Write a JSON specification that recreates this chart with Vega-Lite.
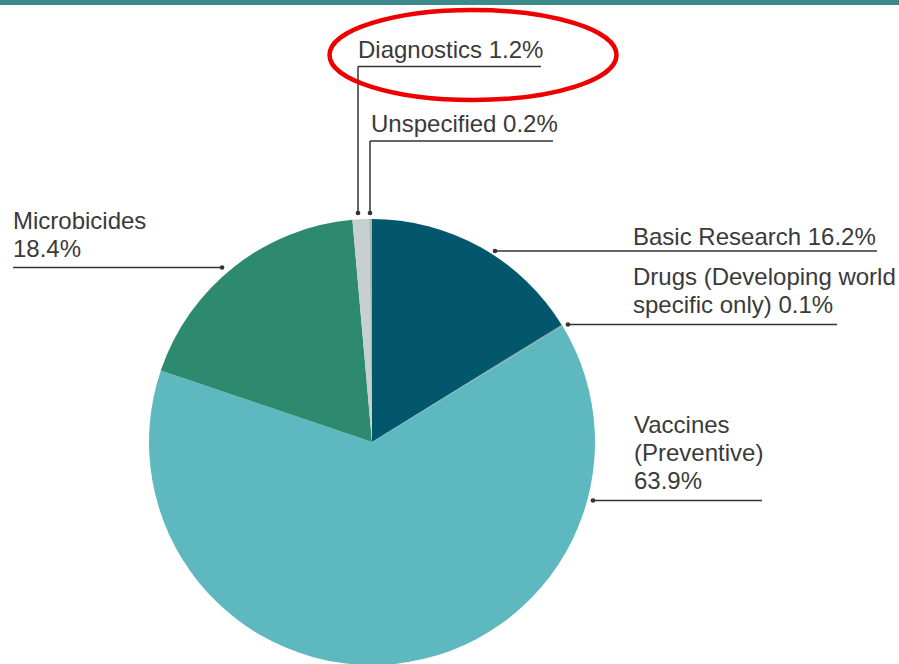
{
  "$schema": "https://vega.github.io/schema/vega-lite/v6.json",
  "width": 899,
  "height": 664,
  "padding": 0,
  "autosize": {"type": "none"},
  "background": "white",
  "config": {
    "view": {"stroke": null},
    "text": {"font": "Liberation Sans"}
  },
  "datasets": {
    "slices": [
      {"category": "Basic Research", "share": 16.2, "order": 1},
      {"category": "Drugs (Developing world specific only)", "share": 0.1, "order": 2},
      {"category": "Vaccines (Preventive)", "share": 63.9, "order": 3},
      {"category": "Microbicides", "share": 18.4, "order": 4},
      {"category": "Diagnostics", "share": 1.2, "order": 5},
      {"category": "Unspecified", "share": 0.2, "order": 6}
    ],
    "labels": [
      {"category": "Diagnostics", "text": "Diagnostics 1.2%", "x": -0.0628, "y": 1.722},
      {"category": "Unspecified", "text": "Unspecified 0.2%", "x": -0.0045, "y": 1.3901},
      {"category": "Microbicides", "text": "Microbicides\n18.4%", "x": -1.6099, "y": 0.9552},
      {"category": "Basic Research", "text": "Basic Research 16.2%", "x": 1.1704, "y": 0.8834},
      {"category": "Drugs (Developing world specific only)", "text": "Drugs (Developing world\nspecific only) 0.1%", "x": 1.1704, "y": 0.704},
      {"category": "Vaccines (Preventive)", "text": "Vaccines\n(Preventive)\n63.9%", "x": 1.1749, "y": 0.0404}
    ],
    "leaders": [
      {"category": "Diagnostics", "x": -0.0628, "y": 1.6839, "x2": 0.7578, "y2": 1.6839},
      {"category": "Diagnostics", "x": -0.0628, "y": 1.6839, "x2": -0.0628, "y2": 1.0269},
      {"category": "Unspecified", "x": -0.009, "y": 1.3498, "x2": 0.8117, "y2": 1.3498},
      {"category": "Unspecified", "x": -0.009, "y": 1.3498, "x2": -0.009, "y2": 1.0269},
      {"category": "Microbicides", "x": -1.6099, "y": 0.7825, "x2": -0.6726, "y2": 0.7825},
      {"category": "Basic Research", "x": 0.5516, "y": 0.8565, "x2": 2.2646, "y2": 0.8565},
      {"category": "Drugs (Developing world specific only)", "x": 0.8789, "y": 0.5269, "x2": 2.0852, "y2": 0.5269},
      {"category": "Vaccines (Preventive)", "x": 0.991, "y": -0.2623, "x2": 1.7489, "y2": -0.2623}
    ],
    "anchors": [
      {"category": "Diagnostics", "x": -0.0628, "y": 1.0269},
      {"category": "Unspecified", "x": -0.009, "y": 1.0269},
      {"category": "Microbicides", "x": -0.6726, "y": 0.7825},
      {"category": "Basic Research", "x": 0.5516, "y": 0.8565},
      {"category": "Drugs (Developing world specific only)", "x": 0.8789, "y": 0.5269},
      {"category": "Vaccines (Preventive)", "x": 0.991, "y": -0.2623}
    ],
    "highlight": [
      {"category": "Diagnostics", "x": 0.4529, "y": 1.7354}
    ]
  },
  "layer": [
    {
      "description": "Header band along the top edge",
      "data": {"values": [{}]},
      "mark": {"type": "rect", "color": "#3b8a8c"},
      "encoding": {
        "x": {"datum": -1.6682, "type": "quantitative", "axis": null,
              "scale": {"domain": [-1.6682, 2.3632], "nice": false, "zero": false}},
        "x2": {"datum": 2.3632},
        "y": {"datum": 1.9597, "type": "quantitative", "axis": null,
              "scale": {"domain": [-0.9955, 1.9821], "nice": false, "zero": false}},
        "y2": {"datum": 1.9821}
      }
    },
    {
      "description": "Pie of funding shares, centred on the origin of the unit space",
      "data": {"name": "slices"},
      "mark": {"type": "arc", "outerRadius": 223},
      "encoding": {
        "x": {"datum": 0, "type": "quantitative"},
        "y": {"datum": 0, "type": "quantitative"},
        "theta": {"field": "share", "type": "quantitative", "stack": true},
        "order": {"field": "order", "type": "quantitative"},
        "color": {
          "field": "category",
          "type": "nominal",
          "legend": null,
          "scale": {
            "domain": ["Basic Research", "Drugs (Developing world specific only)", "Vaccines (Preventive)", "Microbicides", "Diagnostics", "Unspecified"],
            "range": ["#02576c", "#7a9e9e", "#5eb8bf", "#2e8a6f", "#c8d0cf", "#a8b4b4"]
          }
        }
      }
    },
    {
      "data": {"name": "leaders"},
      "mark": {"type": "rule", "color": "#333333", "strokeWidth": 1.5},
      "encoding": {
        "x": {"field": "x", "type": "quantitative"},
        "x2": {"field": "x2"},
        "y": {"field": "y", "type": "quantitative"},
        "y2": {"field": "y2"}
      }
    },
    {
      "data": {"name": "anchors"},
      "mark": {"type": "point", "filled": true, "color": "#333333", "size": 22, "opacity": 1},
      "encoding": {
        "x": {"field": "x", "type": "quantitative"},
        "y": {"field": "y", "type": "quantitative"}
      }
    },
    {
      "data": {"name": "labels"},
      "mark": {"type": "text", "align": "left", "baseline": "alphabetic", "fontSize": 24, "lineHeight": 28, "lineBreak": "\n", "color": "#3a3a3a"},
      "encoding": {
        "x": {"field": "x", "type": "quantitative"},
        "y": {"field": "y", "type": "quantitative"},
        "text": {"field": "text", "type": "nominal"}
      }
    },
    {
      "description": "Red ring drawn around the highlighted label",
      "data": {"name": "highlight"},
      "mark": {
        "type": "point",
        "filled": false,
        "color": "#ee0000",
        "strokeWidth": 4.5,
        "opacity": 1,
        "size": 82369,
        "shape": "M-1,0 C-1,-0.1732 -0.5523,-0.3136 0,-0.3136 C0.5523,-0.3136 1,-0.1732 1,0 C1,0.1732 0.5523,0.3136 0,0.3136 C-0.5523,0.3136 -1,0.1732 -1,0 Z"
      },
      "encoding": {
        "x": {"field": "x", "type": "quantitative"},
        "y": {"field": "y", "type": "quantitative"}
      }
    }
  ]
}
